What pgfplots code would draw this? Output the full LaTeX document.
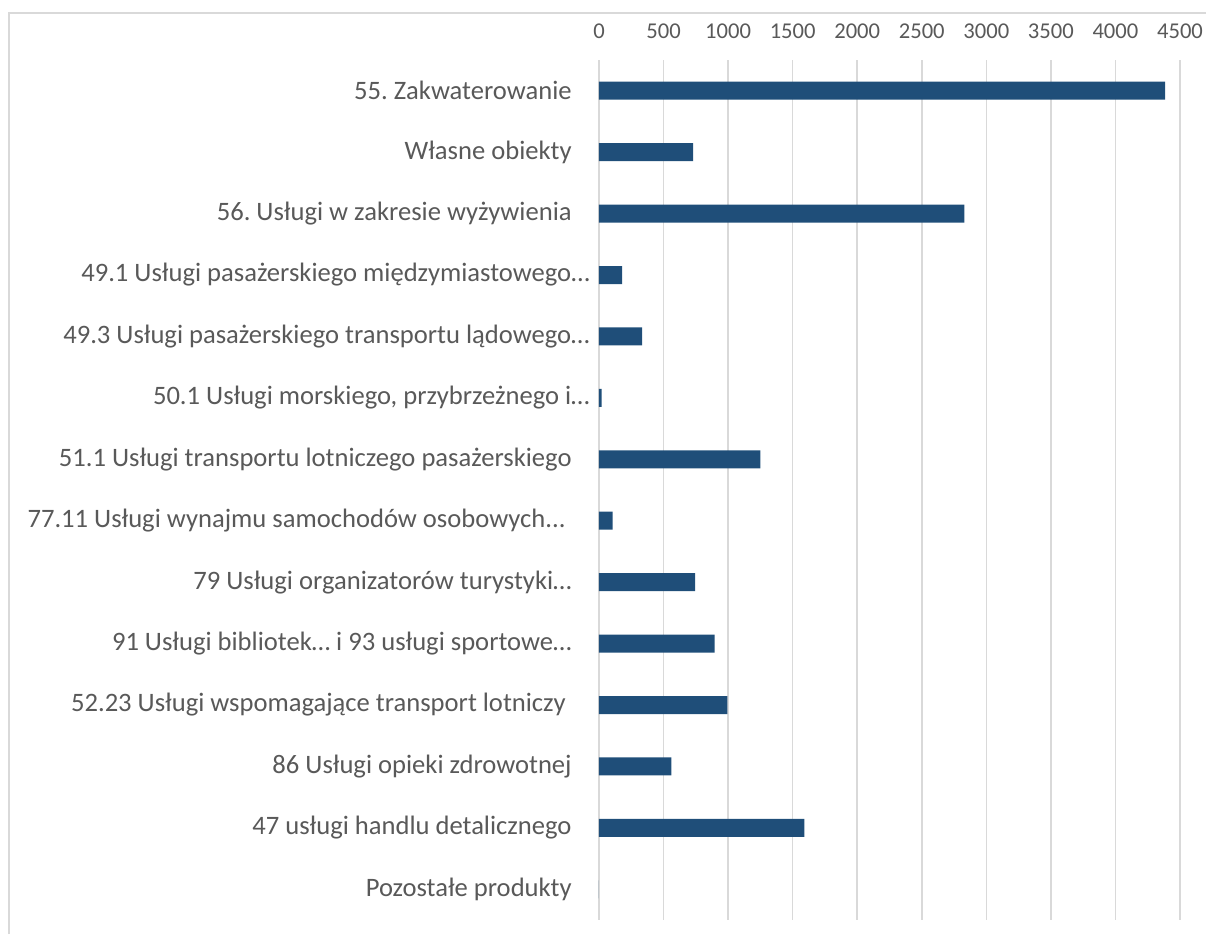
\documentclass[border=0pt]{standalone}
\usepackage{fontspec}
\setmainfont{Carlito}
\usepackage{pgfplots}
\pgfplotsset{compat=1.18}
\definecolor{barblue}{RGB}{31,78,121}
\definecolor{txtgray}{RGB}{89,89,89}
\definecolor{gridgray}{RGB}{217,217,217}
\frenchspacing

\begin{document}
\begin{tikzpicture}
\useasboundingbox (0pt,0pt) rectangle (603pt,-467pt);
%% chart frame
\draw[gridgray, line width=0.8pt] (4.5pt,-467pt) -- (4.5pt,-6.5pt) -- (603pt,-6.5pt);
\begin{axis}[
  at={(299.5pt,-460pt)}, anchor=south west,
  scale only axis, width=290.5pt, height=430pt,
  xbar, bar width=9pt,
  xmin=0, xmax=4500, ymin=-0.5, ymax=13.5, y dir=reverse,
  xtick={0,500,1000,1500,2000,2500,3000,3500,4000,4500}, ytick={0,1,2,3,4,5,6,7,8,9,10,11,12,13},
  scaled ticks=false,
  /pgf/number format/.cd, 1000 sep={}, assume math mode=true, /pgfplots/.cd,
  axis line style={draw=none},
  major tick length=0pt,
  xmajorgrids, grid style={gridgray, line width=0.8pt},
  xticklabel pos=upper,
  x tick label style={font=\fontsize{11.3}{13}\selectfont, text=txtgray,
    anchor=base, inner sep=0pt, yshift=11pt},
  y tick label style={font=\fontsize{13.3}{15}\selectfont, text=txtgray,
    anchor=east, inner sep=0pt, xshift=-13.5pt},
  yticklabels={
    {55. Zakwaterowanie},
    {Własne obiekty},
    {56. Usługi w zakresie wyżywienia},
    {49.1 Usługi pasażerskiego międzymiastowego…\kern-9pt},
    {49.3 Usługi pasażerskiego transportu lądowego…\kern-9pt},
    {50.1 Usługi morskiego, przybrzeżnego i…\kern-9pt},
    {51.1 Usługi transportu lotniczego pasażerskiego},
    {77.11 Usługi wynajmu samochodów osobowych.{}.{}.\kern3pt},
    {79 Usługi organizatorów turystyki…},
    {91 Usługi bibliotek… i 93 usługi sportowe…},
    {52.23 Usługi wspomagające transport lotniczy\kern3pt},
    {86 Usługi opieki zdrowotnej},
    {47 usługi handlu detalicznego},
    {Pozostałe produkty}},
]
  \addplot[fill=barblue, draw=none] coordinates {
    (4385,0) (730,1) (2830,2) (180,3) (335,4) (20,5) (1250,6)
    (105,7) (745,8) (895,9) (995,10) (560,11) (1590,12) (0,13)
  };
\end{axis}
\end{tikzpicture}
\end{document}
